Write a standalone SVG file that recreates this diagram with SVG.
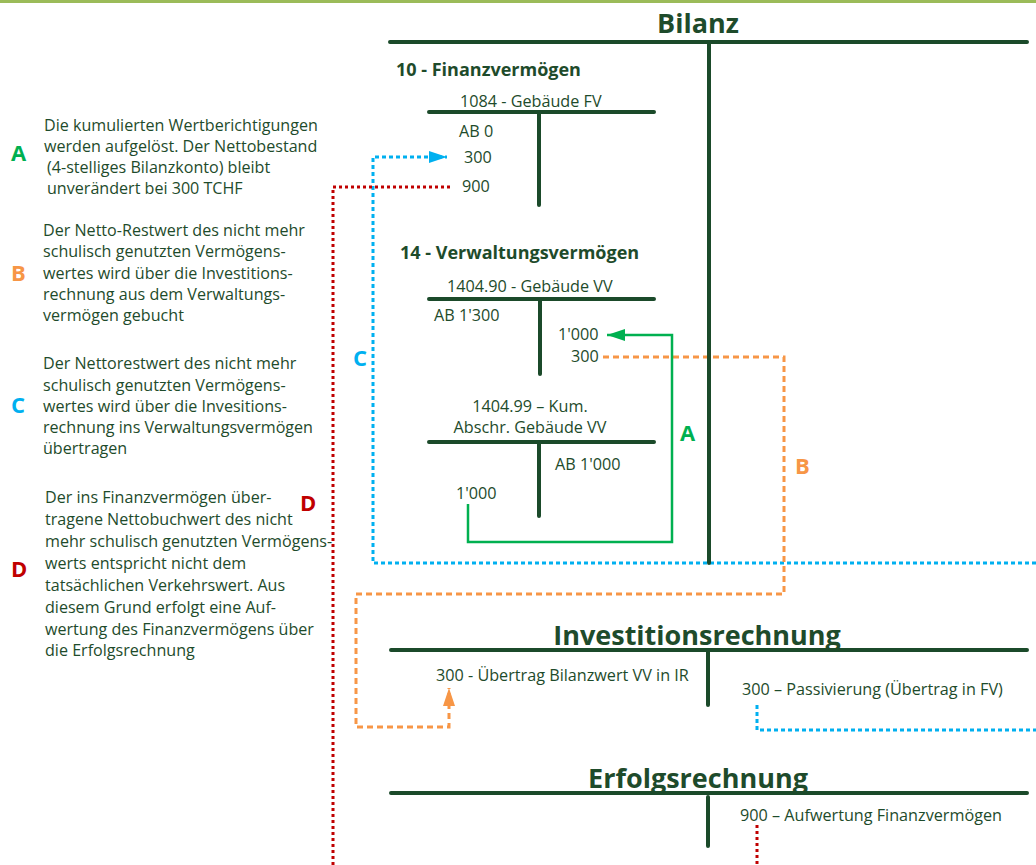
<svg xmlns="http://www.w3.org/2000/svg" width="1036" height="865" viewBox="0 0 1036 865">
<style>
text{font-family:"Open Sans","Liberation Sans",sans-serif;fill:#1e4b2b}
.t{font-size:16.2px}
.n{font-size:16.1px}
.h{font-size:27px;font-weight:bold;text-anchor:middle}
.s{font-size:18px;font-weight:bold}
.L{font-size:22px;font-weight:bold}
.ln{stroke:#1b4a2a;stroke-width:4;stroke-linecap:round;fill:none}
.blue{stroke:#00b0f0;stroke-width:3;stroke-dasharray:4 3;fill:none}
.red{stroke:#c00000;stroke-width:3;stroke-dasharray:3 3;fill:none}
.org{stroke:#f79646;stroke-width:3;stroke-dasharray:6 4;fill:none}
.grn{stroke:#00b050;stroke-width:2.5;fill:none}
</style>
<defs>
<marker id="aB" markerUnits="userSpaceOnUse" markerWidth="18" markerHeight="12" refX="18" refY="6" orient="auto"><path d="M0,0 L18,6 L0,12 z" fill="#00b0f0"/></marker>
<marker id="aG" markerUnits="userSpaceOnUse" markerWidth="18" markerHeight="12" refX="18" refY="6" orient="auto"><path d="M0,0 L18,6 L0,12 z" fill="#00b050"/></marker>
<marker id="aO" markerUnits="userSpaceOnUse" markerWidth="18" markerHeight="12" refX="18" refY="6" orient="auto"><path d="M0,0 L18,6 L0,12 z" fill="#f79646"/></marker>
</defs>
<rect x="0" y="0" width="1036" height="3" fill="#9bbb59"/>

<g id="connectors">
<path class="blue" d="M1036,563 H373 V157 H447" marker-end="url(#aB)"/>
<path class="blue" d="M757,705 V730 H1036"/>
<path class="red" d="M450,187 H333 V865"/>
<path class="red" d="M757,825 V865"/>
<path class="org" d="M603,357 H784 V594 H356 V727 H449 V688" marker-end="url(#aO)"/>
<path class="grn" d="M468,504 V542 H672 V335 H607" marker-end="url(#aG)"/>
<text class="L" x="680" y="441" style="fill:#00b050">A</text>
<text class="L" x="795" y="474" style="fill:#f79646">B</text>
<text class="L" x="353" y="366" style="fill:#00b0f0">C</text>
<text class="L" x="300" y="511" style="fill:#c00000">D</text>
</g>

<g id="bilanz">
<text class="h" x="698" y="33">Bilanz</text>
<path class="ln" d="M390,42 H1027 M709,42 V563"/>
</g>

<g id="finanzvermoegen">
<text class="s" x="396" y="76">10 - Finanzvermögen</text>
<text class="t" x="460" y="107">1084 - Gebäude FV</text>
<path class="ln" d="M429,112 H654 M539,112 V205"/>
<text class="t" x="459" y="137">AB 0</text>
<text class="t" x="464" y="163">300</text>
<text class="t" x="462" y="192">900</text>
</g>

<g id="verwaltungsvermoegen">
<text class="s" x="400" y="259">14 - Verwaltungsvermögen</text>
<text class="t" x="447" y="292">1404.90 - Gebäude VV</text>
<path class="ln" d="M429,299 H654 M540,299 V374"/>
<text class="t" x="434" y="321">AB 1'300</text>
<text class="t" x="558" y="340">1'000</text>
<text class="t" x="571" y="362">300</text>
</g>

<g id="kum-abschreibungen">
<text class="t" x="530" y="412" text-anchor="middle">1404.99 – Kum.</text>
<text class="t" x="530" y="433" text-anchor="middle">Abschr. Gebäude VV</text>
<path class="ln" d="M429,442 H654 M539,442 V516"/>
<text class="t" x="555" y="470">AB 1'000</text>
<text class="t" x="456" y="499">1'000</text>
</g>

<g id="investitionsrechnung">
<text class="h" x="697" y="645">Investitionsrechnung</text>
<path class="ln" d="M391,650 H1027 M708,650 V705"/>
<text class="t" x="436" y="681">300 - Übertrag Bilanzwert VV in IR</text>
<text class="t" x="742" y="695">300 – Passivierung (Übertrag in FV)</text>
</g>

<g id="erfolgsrechnung">
<text class="h" x="698" y="788">Erfolgsrechnung</text>
<path class="ln" d="M391,793 H1027 M708,797 V846"/>
<text class="t" x="740" y="821">900 – Aufwertung Finanzvermögen</text>
</g>

<g id="note-a">
<text class="L" x="11" y="161" style="fill:#00b050">A</text>
<text class="n" x="44" y="131">Die kumulierten Wertberichtigungen</text>
<text class="n" x="44" y="152">werden aufgelöst. Der Nettobestand</text>
<text class="n" x="47" y="173">(4-stelliges Bilanzkonto) bleibt</text>
<text class="n" x="47" y="194">unverändert bei 300 TCHF</text>
</g>

<g id="note-b">
<text class="L" x="11" y="281" style="fill:#f79646">B</text>
<text class="n" x="43" y="236">Der Netto-Restwert des nicht mehr</text>
<text class="n" x="43" y="257">schulisch genutzten Vermögens-</text>
<text class="n" x="43" y="279">wertes wird über die Investitions-</text>
<text class="n" x="43" y="300">rechnung aus dem Verwaltungs-</text>
<text class="n" x="43" y="321">vermögen gebucht</text>
</g>

<g id="note-c">
<text class="L" x="11" y="413" style="fill:#00b0f0">C</text>
<text class="n" x="43" y="369">Der Nettorestwert des nicht mehr</text>
<text class="n" x="43" y="391">schulisch genutzten Vermögens-</text>
<text class="n" x="43" y="412">wertes wird über die Invesitions-</text>
<text class="n" x="43" y="433">rechnung ins Verwaltungsvermögen</text>
<text class="n" x="43" y="454">übertragen</text>
</g>

<g id="note-d">
<text class="L" x="11" y="577" style="fill:#c00000">D</text>
<text class="n" x="45" y="503">Der ins Finanzvermögen über-</text>
<text class="n" x="45" y="525">tragene Nettobuchwert des nicht</text>
<text class="n" x="45" y="547">mehr schulisch genutzten Vermögens-</text>
<text class="n" x="45" y="569">werts entspricht nicht dem</text>
<text class="n" x="45" y="591">tatsächlichen Verkehrswert. Aus</text>
<text class="n" x="45" y="613">diesem Grund erfolgt eine Auf-</text>
<text class="n" x="45" y="635">wertung des Finanzvermögens über</text>
<text class="n" x="45" y="656">die Erfolgsrechnung</text>
</g>
</svg>
